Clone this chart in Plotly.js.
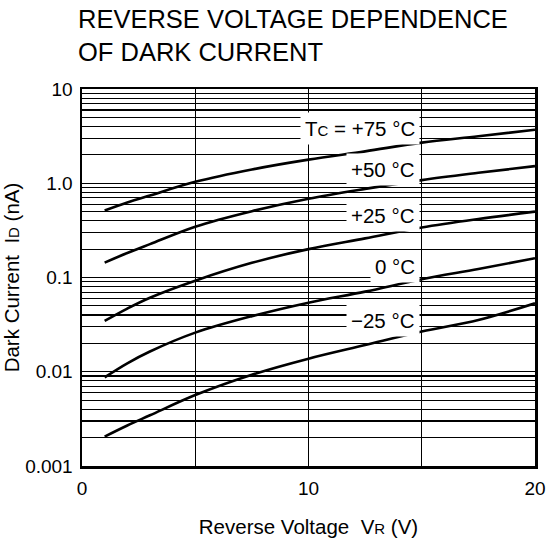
<!DOCTYPE html>
<html>
<head>
<meta charset="utf-8">
<script src="https://cdn.plot.ly/plotly-3.0.1.min.js"></script>
<style>html,body{margin:0;padding:0;background:#fff;}#chart{width:549px;height:540px;}</style>
</head>
<body>
<div id="chart"></div>
<script>
// Reverse voltage (V)
const voltage = [1, 2, 3, 5, 7.5, 10, 12.5, 15, 17.5, 20];
// Dark current (nA) per case temperature
const id_p75 = [0.513, 0.624, 0.741, 1.035, 1.40, 1.78, 2.18, 2.70, 3.15, 3.70];
const id_p50 = [0.144, 0.182, 0.226, 0.346, 0.505, 0.685, 0.871, 1.08, 1.29, 1.52];
const id_p25 = [0.0346, 0.0468, 0.061, 0.0925, 0.143, 0.20, 0.26, 0.339, 0.417, 0.50];
const id_0   = [0.00873, 0.0123, 0.0164, 0.026, 0.0389, 0.0541, 0.0708, 0.0957, 0.123, 0.16];
const id_m25 = [0.00205, 0.00269, 0.00345, 0.00566, 0.0093, 0.01377, 0.0192, 0.0267, 0.0354, 0.0532];

const seriesLabels = ['T<span style="font-size:15px">C</span> = +75 °C', '+50 °C', '+25 °C', '0 °C', '−25 °C'];
// label vertical positions (log10 of nA)
const labelLogY = [0.576, 0.148, -0.337, -0.878, -1.451];
const labelX = 15;

const xTickVals = [0, 5, 10, 15, 20];
const xTickText = ['0', '', '10', '', '20'];
const decades = [0.001, 0.01, 0.1, 1, 10];
const decadeText = ['0.001', '0.01', '0.1', '1.0', '10'];

const yTickVals = [];
const yTickText = [];
for (let d = 0; d < decades.length; d++) {
  const base = decades[d];
  yTickVals.push(base); yTickText.push(decadeText[d]);
  if (d < decades.length - 1) {
    for (let m = 2; m <= 9; m++) { yTickVals.push(base * m); yTickText.push(''); }
  }
}

const allSeries = [id_p75, id_p50, id_p25, id_0, id_m25];
const traces = allSeries.map((ys) => ({
  x: voltage, y: ys, type: 'scatter', mode: 'lines',
  line: {color: '#000', width: 2.6, shape: 'spline', smoothing: 1},
  hoverinfo: 'skip', showlegend: false
}));

const font = {family: '"Liberation Sans", Arial, sans-serif', color: '#000'};

const annotations = seriesLabels.map((t, i) => ({
  text: t, xref: 'x', yref: 'y', x: labelX, y: labelLogY[i],
  xanchor: 'right', yanchor: 'middle', xshift: -2, showarrow: false,
  bgcolor: '#fff', borderpad: 4,
  font: Object.assign({}, font, {size: 20.5})
}));

const layout = {
  width: 549, height: 540,
  margin: {l: 82, r: 14, t: 89, b: 74},
  paper_bgcolor: '#fff', plot_bgcolor: '#fff',
  font: font,
  title: {
    text: 'REVERSE VOLTAGE DEPENDENCE<br>OF DARK CURRENT',
    x: 78 / 549, xanchor: 'left', xref: 'container',
    y: 0.949, yanchor: 'top', yref: 'container',
    font: Object.assign({}, font, {size: 25.5})
  },
  xaxis: {
    range: [0, 20], tickmode: 'array', tickvals: xTickVals, ticktext: xTickText,
    showgrid: true, gridcolor: '#000', gridwidth: 1.2,
    showline: true, mirror: true, linecolor: '#000', linewidth: 2.5,
    ticks: '', zeroline: false, ticklabelstandoff: 4,
    tickfont: Object.assign({}, font, {size: 19}),
    title: {text: 'Reverse Voltage  V<span style="font-size:15px">R</span> (V)', standoff: 22,
            font: Object.assign({}, font, {size: 20.5})},
    automargin: false, fixedrange: true
  },
  yaxis: {
    type: 'log', range: [-3, 1], tickmode: 'array', tickvals: yTickVals, ticktext: yTickText,
    showgrid: true, gridcolor: '#000', gridwidth: 1.2,
    showline: true, mirror: true, linecolor: '#000', linewidth: 2.5,
    ticks: '', zeroline: false, ticklabelstandoff: 3,
    tickfont: Object.assign({}, font, {size: 19}),
    title: {text: 'Dark Current  I<span style="font-size:15px">D</span> (nA)', standoff: 1,
            font: Object.assign({}, font, {size: 20.5})},
    automargin: false, fixedrange: true
  },
  annotations: annotations,
  showlegend: false
};

Plotly.newPlot('chart', traces, layout, {staticPlot: true, displayModeBar: false});
</script>
</body>
</html>
